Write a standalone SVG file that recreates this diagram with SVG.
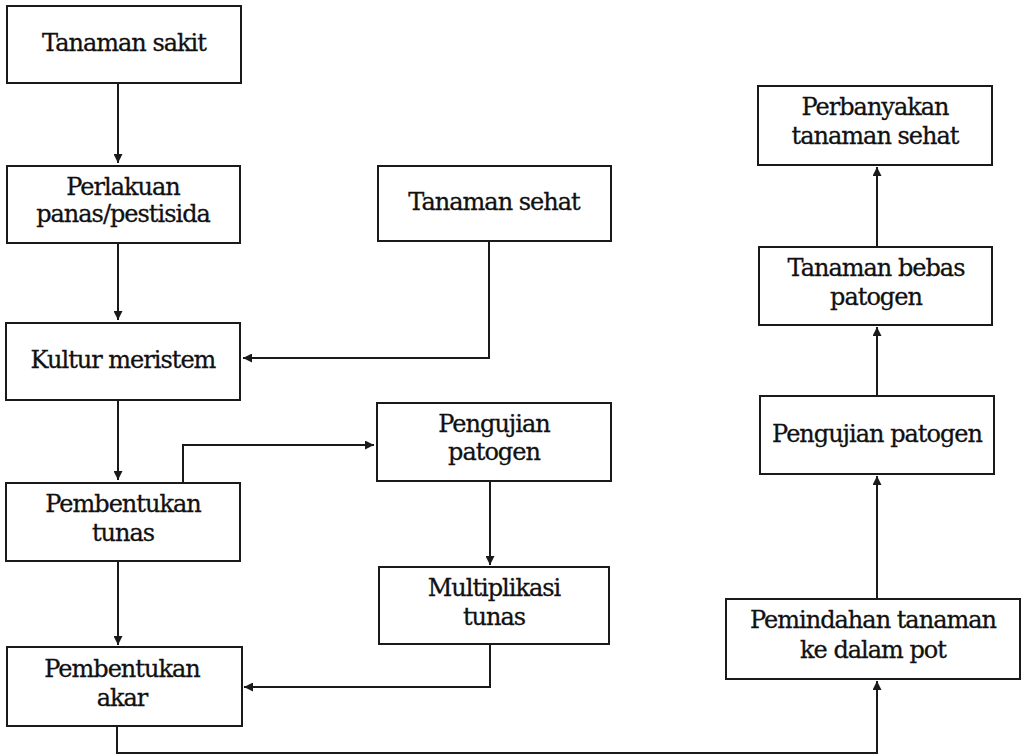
<svg xmlns="http://www.w3.org/2000/svg" width="1022" height="756" viewBox="0 0 1022 756">
<style>
.box{fill:#fff;stroke:#1a1a1a;stroke-width:2}
.t{font-family:"DejaVu Serif","Liberation Serif",serif;font-size:24px;fill:#111;stroke:#111;stroke-width:0.3;text-anchor:middle;letter-spacing:-1px}
.c{fill:none;stroke:#1a1a1a;stroke-width:2}
</style>
<defs>
<marker id="ah" viewBox="0 0 10 10" refX="10" refY="5" markerWidth="9" markerHeight="9" markerUnits="userSpaceOnUse" orient="auto">
<path d="M0,0 L10,5 L0,10 z" fill="#1a1a1a"/>
</marker>
</defs>
<rect width="1022" height="756" fill="#fff"/>
<g id="connectors">
<path class="c" d="M118,83 V163" marker-end="url(#ah)"/>
<path class="c" d="M118,243 V320" marker-end="url(#ah)"/>
<path class="c" d="M489,241 V358 H243" marker-end="url(#ah)"/>
<path class="c" d="M118,400 V480" marker-end="url(#ah)"/>
<path class="c" d="M183,483 V445 H374" marker-end="url(#ah)"/>
<path class="c" d="M490,481 V565" marker-end="url(#ah)"/>
<path class="c" d="M118,561 V645" marker-end="url(#ah)"/>
<path class="c" d="M490,644 V687 H244" marker-end="url(#ah)"/>
<path class="c" d="M117,726 V753 H877 V681" marker-end="url(#ah)"/>
<path class="c" d="M877,599 V476" marker-end="url(#ah)"/>
<path class="c" d="M877,396 V327" marker-end="url(#ah)"/>
<path class="c" d="M877,247 V167" marker-end="url(#ah)"/>
</g>
<g id="n1"><rect class="box" x="7" y="6" width="234" height="77"/><text class="t" x="124" y="51">Tanaman sakit</text></g>
<g id="n2"><rect class="box" x="7" y="166" width="233" height="77"/><text class="t" x="123" y="195">Perlakuan</text><text class="t" x="123" y="222">panas/pestisida</text></g>
<g id="n3"><rect class="box" x="6" y="323" width="234" height="77"/><text class="t" x="123" y="368">Kultur meristem</text></g>
<g id="n4"><rect class="box" x="6" y="483" width="234" height="78"/><text class="t" x="123" y="512">Pembentukan</text><text class="t" x="123" y="541">tunas</text></g>
<g id="n5"><rect class="box" x="7" y="647" width="235" height="79"/><text class="t" x="122" y="677">Pembentukan</text><text class="t" x="122" y="706">akar</text></g>
<g id="n6"><rect class="box" x="378" y="166" width="233" height="75"/><text class="t" x="494" y="210">Tanaman sehat</text></g>
<g id="n7"><rect class="box" x="377" y="403" width="234" height="78"/><text class="t" x="494" y="432">Pengujian</text><text class="t" x="494" y="460">patogen</text></g>
<g id="n8"><rect class="box" x="379" y="567" width="230" height="77"/><text class="t" x="494" y="596">Multiplikasi</text><text class="t" x="494" y="625">tunas</text></g>
<g id="n9"><rect class="box" x="758" y="86" width="234" height="79"/><text class="t" x="875" y="115">Perbanyakan</text><text class="t" x="875" y="144">tanaman sehat</text></g>
<g id="n10"><rect class="box" x="759" y="247" width="233" height="78"/><text class="t" x="876" y="276">Tanaman bebas</text><text class="t" x="876" y="305">patogen</text></g>
<g id="n11"><rect class="box" x="760" y="396" width="234" height="78"/><text class="t" x="877" y="442">Pengujian patogen</text></g>
<g id="n12"><rect class="box" x="726" y="599" width="294" height="80"/><text class="t" x="873" y="628">Pemindahan tanaman</text><text class="t" x="873" y="658">ke dalam pot</text></g>
</svg>
